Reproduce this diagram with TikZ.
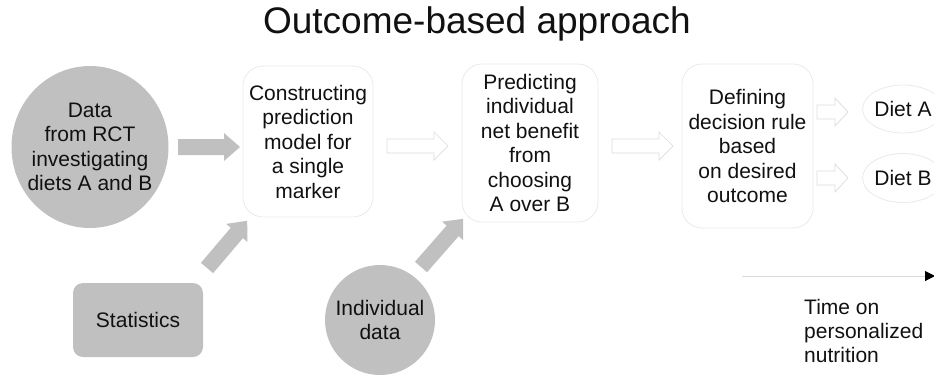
\documentclass[tikz,border=0pt]{standalone}
\usepackage{fontspec}
\setmainfont{Liberation Sans}
\usetikzlibrary{shapes.geometric,arrows.meta}
\definecolor{blockgray}{HTML}{C0C0C0}
\definecolor{faint}{HTML}{EAEAEA}
\definecolor{arrowline}{HTML}{DCDCDC}
\definecolor{ink}{HTML}{111111}
\begin{document}
\begin{tikzpicture}[x=1pt,y=-1pt,
  every node/.style={text=ink, font=\fontsize{21}{24.5}\selectfont, align=center, inner sep=0pt},
  stepbox/.style={rectangle, draw=faint, line width=0.8pt, fill=white, rounded corners=20pt},
  grayblob/.style={ellipse, fill=blockgray, inner sep=-30pt},
  graybox/.style={rectangle, fill=blockgray, rounded corners=10pt},
  dietblob/.style={ellipse, draw=faint, line width=0.8pt, fill=white},
  solidarrow/.style={fill=blockgray},
  hollowarrow/.style={draw=arrowline, line width=0.7pt, fill=white},
  % block arrow drawn from its tail centre: length, shaft width, head width, head length
  pics/barrow/.style n args={4}{code={
    \path[pic actions] (0,-#2/2) -- (#1-#4,-#2/2) -- (#1-#4,-#3/2) -- (#1,0)
      -- (#1-#4,#3/2) -- (#1-#4,#2/2) -- (0,#2/2) -- cycle;
  }}
]
\useasboundingbox (0,0) rectangle (934,376);

% title
\node (title) at (477,24) {\fontsize{37}{40}\selectfont Outcome-based approach};

% inputs
\node[grayblob, minimum width=157pt, minimum height=162pt] (rct) at (90,147)
  {Data\\from RCT\\investigating\\diets A and B};
\node[graybox, minimum width=130pt, minimum height=74pt] (stats) at (138,320) {Statistics};
\node[circle, fill=blockgray, minimum size=110pt] (indiv) at (380,320) {Individual\\data};

% process steps
\node[stepbox, minimum width=130pt, minimum height=151pt] (model) at (308,141.5)
  {Constructing\\prediction\\model for\\a single \\marker};
\node[stepbox, minimum width=136pt, minimum height=158pt] (benefit) at (530,143)
  {Predicting\\individual\\net benefit\\from\\choosing\\ A over B};
\node[stepbox, minimum width=131pt, minimum height=164pt] (rule) at (747.5,146)
  {Defining\\decision rule\\based\\on desired\\outcome};

% outcomes
\node[dietblob, minimum width=78pt, minimum height=48pt] (dietA) at (903,109) {Diet A};
\node[dietblob, minimum width=78pt, minimum height=49pt] (dietB) at (903,178) {Diet B};

% filled arrows feeding the model steps
\pic[solidarrow] at (178,147) {barrow={62}{16}{28}{16}};
\pic[solidarrow, rotate=49.6] at (207,268) {barrow={62}{16}{28}{16}};
\pic[solidarrow, rotate=48.8] at (421,267) {barrow={64}{16}{28}{16}};

% hollow arrows between the steps
\pic[hollowarrow] at (387,146) {barrow={61}{14}{28}{14}};
\pic[hollowarrow] at (612,146) {barrow={61}{14}{28}{14}};
\pic[hollowarrow] at (817,112) {barrow={31}{14}{28}{13}};
\pic[hollowarrow] at (817,178) {barrow={31}{14}{28}{13}};

% time axis
\coordinate (t0) at (742,276);
\coordinate (t1) at (935,276);
\draw[draw=black!15, line width=1pt, -{Triangle[length=10pt,width=10pt,color=black]}] (t0) -- (t1);
\node[anchor=west, align=left, font=\fontsize{21}{24}\selectfont] (timelabel) at (804,331)
  {Time on\\personalized\\nutrition};
\end{tikzpicture}
\end{document}
